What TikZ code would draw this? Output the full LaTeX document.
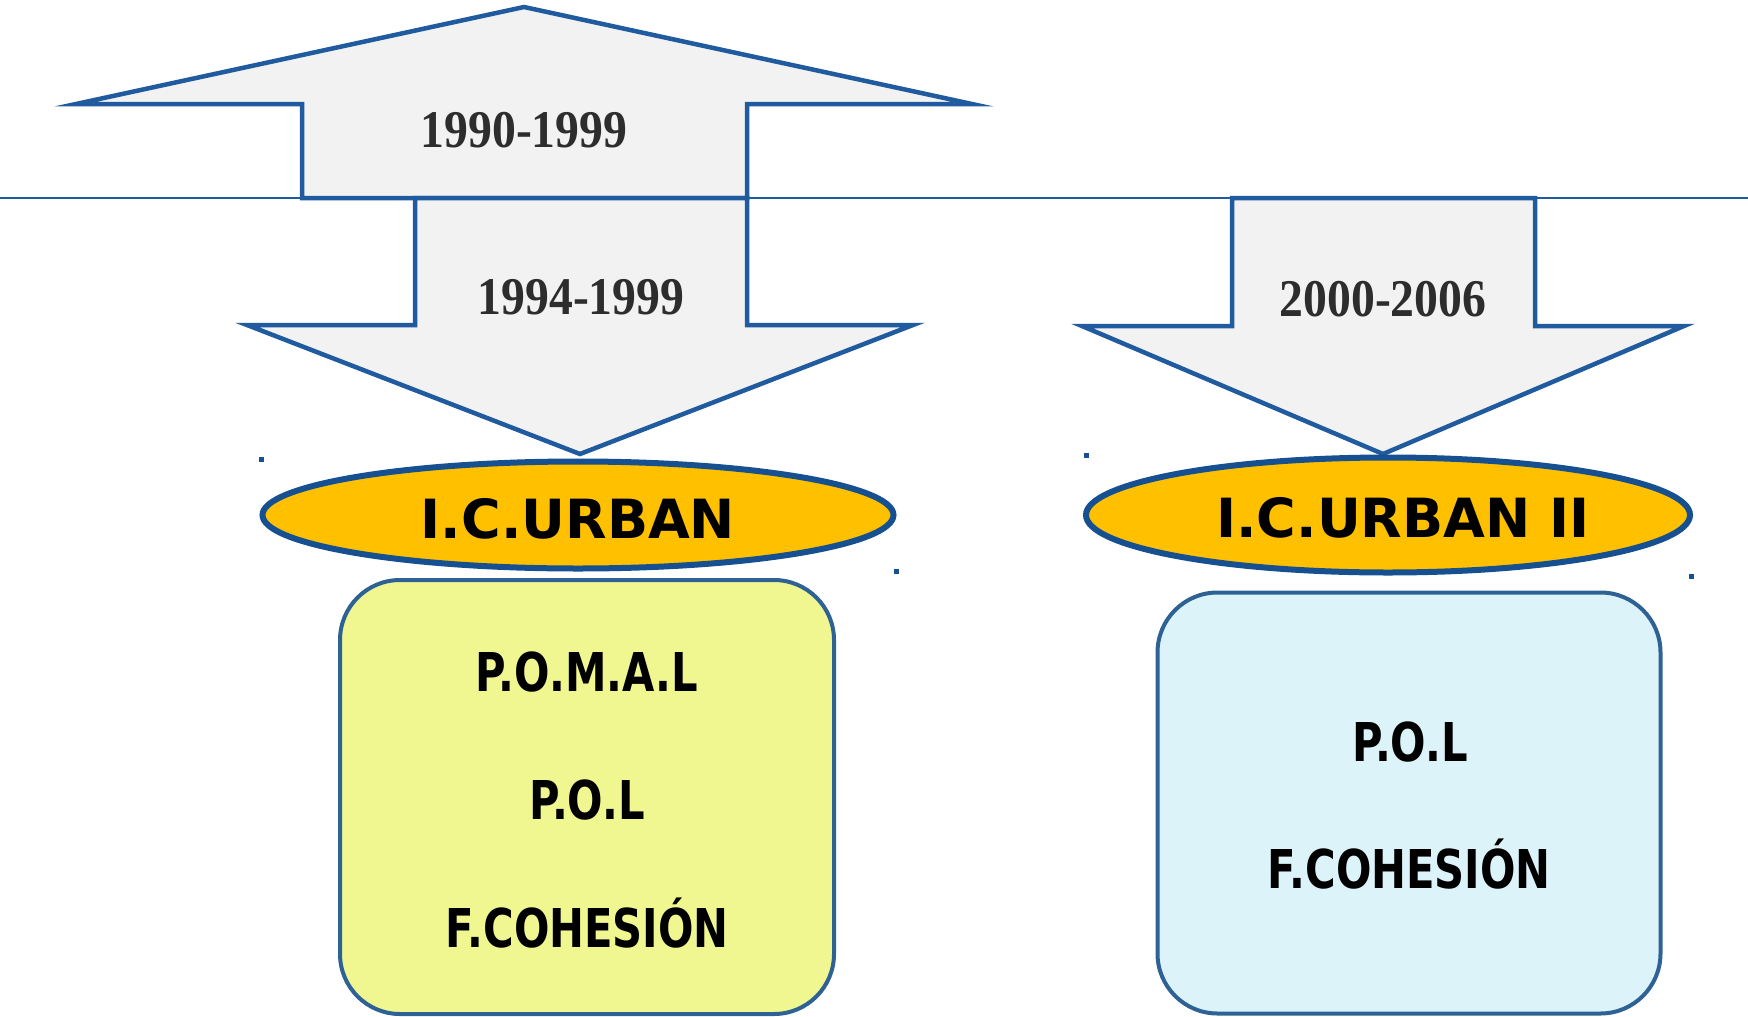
\documentclass[tikz,border=0pt]{standalone}
\usepackage{fontspec}
\usepackage{tikz}
\usetikzlibrary{shapes.geometric}
\newfontfamily\yearfont[FakeStretch=0.9]{Liberation Serif}
\newfontfamily\ovalfont{DejaVu Sans}
\newfontfamily\boxfont[FakeStretch=0.78]{DejaVu Sans}
\definecolor{lineblue}{RGB}{31,91,158}
\definecolor{arrowgrey}{RGB}{242,242,242}
\definecolor{yeargrey}{RGB}{45,45,45}
\definecolor{ovalblue}{RGB}{22,80,145}
\definecolor{ovalyellow}{RGB}{255,192,0}
\definecolor{panelblue}{RGB}{46,98,148}
\definecolor{panelyellow}{RGB}{240,247,145}
\definecolor{panelcyan}{RGB}{219,243,249}

\begin{document}
\begin{tikzpicture}[%
    x=1pt, y=-1pt,
    arrowshape/.style={draw=lineblue, line width=4.5pt, fill=arrowgrey, line join=miter},
    yearlabel/.style={anchor=base, inner sep=0, text=yeargrey,
      font=\yearfont\bfseries\fontsize{53}{60}\selectfont},
    oval/.style={ellipse, draw=ovalblue, line width=6pt, fill=ovalyellow, inner sep=0},
    ovallabel/.style={anchor=base, inner sep=0,
      font=\ovalfont\bfseries\fontsize{54}{60}\selectfont},
    panel/.style={draw=panelblue, line width=4pt, rounded corners=60pt, inner sep=0},
    panellabel/.style={anchor=base, inner sep=0,
      font=\boxfont\bfseries\fontsize{53.5}{60}\selectfont},
    handle/.style={fill=ovalblue, minimum size=5pt, inner sep=0}
  ]
    \useasboundingbox (0,0) rectangle (1748,1017);

    % arrows
    \draw[arrowshape] (524,7) -- (972,104) -- (747,104) -- (747,198)
      -- (302,198) -- (302,104) -- (76,104) -- cycle;
    \draw[arrowshape] (415,198) -- (747,198) -- (747,325) -- (913,325)
      -- (580,454) -- (247,325) -- (415,325) -- cycle;
    \draw[arrowshape] (1232,198) -- (1535,198) -- (1535,326) -- (1684,326)
      -- (1383,454) -- (1082,326) -- (1232,326) -- cycle;

    \coordinate (lineL) at (0,198);
    \coordinate (lineR) at (1748,198);
    \draw[lineblue, line width=2pt] (lineL) -- (lineR);

    \node[yearlabel] (y1) at (524,147) {1990-1999};
    \node[yearlabel] (y2) at (581,314) {1994-1999};
    \node[yearlabel] (y3) at (1383,316) {2000-2006};

    % ovals
    \node[oval, minimum width=631, minimum height=107] (urban1) at (578,515) {};
    \node[oval, minimum width=604, minimum height=115] (urban2) at (1388,515) {};
    \node[ovallabel] (u1) at (578,538) {I.C.URBAN};
    \node[ovallabel] (u2) at (1403,537) {I.C.URBAN II};

    \node[handle] (h1) at (261,459) {};
    \node[handle] (h2) at (896,571) {};
    \node[handle] (h3) at (1086,455) {};
    \node[handle] (h4) at (1691,576) {};

    % boxes
    \node[panel, fill=panelyellow, minimum width=494, minimum height=434] (box1) at (587,797) {};
    \node[panel, fill=panelcyan, minimum width=503, minimum height=421] (box2) at (1409,803) {};

    \node[panellabel] (b1a) at (587,691) {P.O.M.A.L};
    \node[panellabel] (b1b) at (587,819) {P.O.L};
    \node[panellabel] (b1c) at (587,947) {F.COHESIÓN};
    \node[panellabel] (b2a) at (1410,761) {P.O.L};
    \node[panellabel] (b2b) at (1409,888) {F.COHESIÓN};
\end{tikzpicture}
\end{document}
